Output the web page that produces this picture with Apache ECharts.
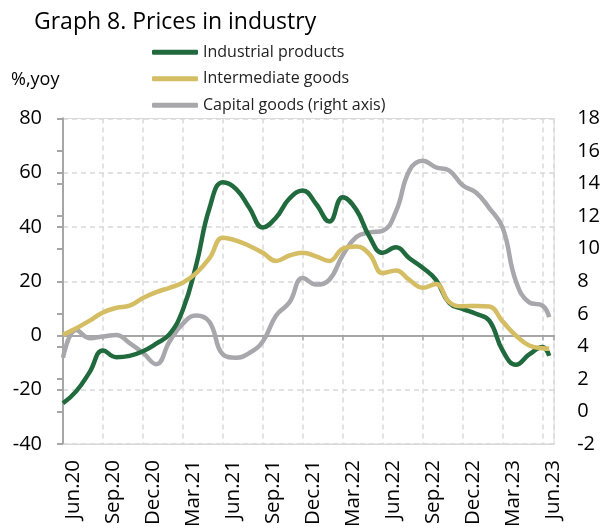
<!DOCTYPE html>
<html>
<head>
<meta charset="utf-8">
<script src="https://cdn.jsdelivr.net/npm/echarts@6/dist/echarts.min.js"></script>
<style>
html,body{margin:0;padding:0;background:#fff;}
#chart{width:603px;height:531px;}
</style>
</head>
<body>
<div id="chart"></div>
<script>
// Month labels (Jun.20 .. Jun.23); axis labels shown every 3 months
const monthLabels = ['Jun.20','Jul.20','Aug.20','Sep.20','Oct.20','Nov.20','Dec.20','Jan.21','Feb.21','Mar.21','Apr.21','May.21',
  'Jun.21','Jul.21','Aug.21','Sep.21','Oct.21','Nov.21','Dec.21','Jan.22','Feb.22','Mar.22','Apr.22','May.22',
  'Jun.22','Jul.22','Aug.22','Sep.22','Oct.22','Nov.22','Dec.22','Jan.23','Feb.23','Mar.23','Apr.23','May.23','Jun.23'];
// x position of each observation, in months from Jun.20
const monthPos = [0,1,2,3,4,5,6,7,8,9,10,11,12,13,14,15,16,17,18,19,20,21,22,23,24,25,26,27,28,29,30,31,32,33,34,35,36,36.5];

const industrialProducts = [-25,-20.5,-13.5,-5.5,-8,-7.5,-5.8,-3,0.5,9.5,26,47,56.5,54,47,39.8,43.5,50.5,53.5,48.5,42,51,46.5,36.5,30.5,32.5,28.5,25,20.5,12,9.8,8,5.5,-5.5,-10.8,-7,-4.2,-7.5];
const intermediateGoods = [0.3,2.7,5.5,8.5,10.2,11,13.8,16,17.6,19.5,23,28.5,36,35,33,30.5,27.5,29.5,30.5,29.2,27.5,32,32.8,30,23,24,20.5,17.6,19,12.3,10.8,10.9,10.7,5.2,0,-3.7,-4.7,-4.9];
const capitalGoods = [3.3,5.0,4.5,4.6,4.7,4.2,3.6,2.9,4.3,5.4,5.9,5.5,3.5,3.3,3.6,4.3,5.9,6.7,8.2,7.8,8.1,9.6,10.7,11.0,11.1,12.3,14.8,15.4,15.0,14.8,13.9,13.45,12.5,11.3,8.0,6.7,6.5,5.8];

const leftTicks = {min:-40, max:80, interval:20};
const rightTicks = {min:-2, max:18, interval:2};

const FONT = '"Open Sans", "Noto Sans", sans-serif';
const AXIS_GRAY = '#a6a6a6';
const GRID_GRAY = '#d9d9d9';

function pairs(vals){ return vals.map((v,i)=>[monthPos[i], v]); }

const chart = echarts.init(document.getElementById('chart'), null, {renderer:'canvas'});
chart.setOption({
  animation:false,
  backgroundColor:'#fff',
  title:{
    text:'Graph 8. Prices in industry',
    left:34, top:11, padding:0,
    textStyle:{fontFamily:FONT, fontSize:23, fontWeight:'normal', color:'#000'}
  },
  graphic:[{
    type:'text', left:11, top:71,
    style:{text:'%,yoy', fontFamily:FONT, fontSize:18, fill:'#000'}
  }],
  legend:{
    orient:'vertical', left:152, top:42, padding:0,
    itemWidth:46, itemHeight:5, itemGap:6, icon:'roundRect',
    textStyle:{fontFamily:FONT, fontSize:16, color:'#222', lineHeight:20.5},
    data:['Industrial products','Intermediate goods','Capital goods (right axis)']
  },
  grid:{left:63, right:46, top:118.5, bottom:87, show:true, borderColor:GRID_GRAY, borderWidth:1},
  xAxis:[{
    type:'value', min:0, max:36.87, interval:3,
    axisLine:{show:true, onZero:false, lineStyle:{color:GRID_GRAY, width:1}},
    axisTick:{show:false},
    axisLabel:{
      rotate:90, margin:16, verticalAlign:'top',
      fontFamily:FONT, fontSize:20.5, color:'#000',
      showMaxLabel:false,
      formatter:function(v){ return (Math.abs(v % 3) < 1e-6) ? (monthLabels[Math.round(v)] || '') : ''; }
    },
    splitLine:{show:true, lineStyle:{color:GRID_GRAY, width:1.5, type:[5,4]}}
  },{
    type:'value', min:0, max:36.87, interval:3, position:'bottom',
    axisLine:{show:true, onZero:true, onZeroAxisIndex:0, lineStyle:{color:AXIS_GRAY, width:2}},
    axisTick:{show:true, length:5, lineStyle:{color:AXIS_GRAY, width:1.5}},
    axisLabel:{show:false},
    splitLine:{show:false}
  }],
  yAxis:[{
    type:'value', min:leftTicks.min, max:leftTicks.max, interval:leftTicks.interval,
    axisLine:{show:true, lineStyle:{color:AXIS_GRAY, width:2}},
    axisTick:{show:true, length:6, lineStyle:{color:AXIS_GRAY, width:2}},
    axisLabel:{margin:21, fontFamily:FONT, fontSize:20, color:'#000'},
    splitLine:{show:true, lineStyle:{color:GRID_GRAY, width:1.5, type:[5,4]}}
  },{
    type:'value', min:rightTicks.min, max:rightTicks.max, interval:rightTicks.interval, position:'right',
    axisLine:{show:true, lineStyle:{color:AXIS_GRAY, width:2}},
    axisTick:{show:true, inside:true, length:6, lineStyle:{color:AXIS_GRAY, width:2}},
    axisLabel:{margin:23, fontFamily:FONT, fontSize:20, color:'#000'},
    splitLine:{show:false}
  }],
  series:[{
    name:'Industrial products', type:'line', xAxisIndex:0, yAxisIndex:0,
    data:pairs(industrialProducts), smooth:0.45, showSymbol:false, z:3,
    lineStyle:{color:'#216a3e', width:4.5}, itemStyle:{color:'#216a3e'}
  },{
    name:'Intermediate goods', type:'line', xAxisIndex:0, yAxisIndex:0,
    data:pairs(intermediateGoods), smooth:0.45, showSymbol:false, z:4,
    lineStyle:{color:'#d4bd63', width:4.5}, itemStyle:{color:'#d4bd63'}
  },{
    name:'Capital goods (right axis)', type:'line', xAxisIndex:0, yAxisIndex:1,
    data:pairs(capitalGoods), smooth:0.45, showSymbol:false, z:2,
    lineStyle:{color:'#a8a8ac', width:4.5}, itemStyle:{color:'#a8a8ac'}
  }]
});
</script>
</body>
</html>
